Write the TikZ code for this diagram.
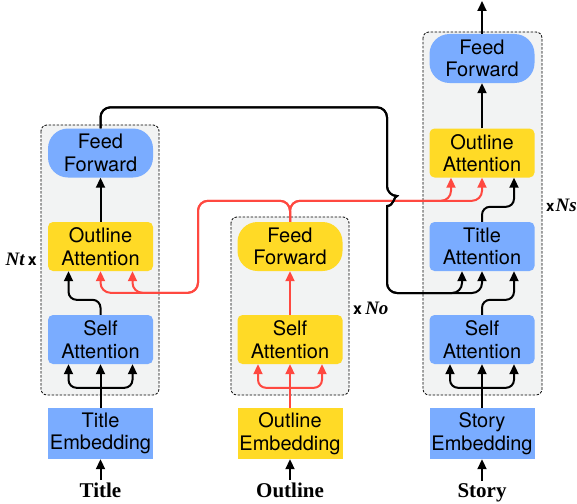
\documentclass[tikz,border=0pt]{standalone}
\usepackage{fontspec}
\setmainfont{TeX Gyre Heros}
\newfontfamily\timesfont{Liberation Serif}
\usepackage{tikz}
\usetikzlibrary{arrows.meta}

\definecolor{ffblue}{RGB}{122,172,255}
\definecolor{ffyellow}{RGB}{255,218,38}
\definecolor{arred}{RGB}{255,72,64}
\definecolor{laygray}{RGB}{242,243,243}

\tikzset{
  blk/.style={rounded corners=5pt, minimum width=105pt, minimum height=49pt, inner sep=0pt, align=center, font=\fontsize{20}{22.5}\selectfont},
  ffblk/.style={blk, rounded corners=20pt},
  embblk/.style={blk, rounded corners=0pt, minimum height=51pt},
  layer/.style={draw, fill=laygray, dash pattern=on 2.5pt off 1.5pt, line width=0.8pt, rounded corners=6pt},
  arr/.style={-{Triangle[length=10pt,width=9pt]}, line width=2pt},
  inlbl/.style={font=\timesfont\bfseries\fontsize{21}{21}\selectfont, anchor=base, inner sep=2pt},
  rep/.style={font=\timesfont\bfseries\itshape\fontsize{19}{19}\selectfont, anchor=base west, inner sep=0pt}
}

\begin{document}
\begin{tikzpicture}[x=1pt,y=-1pt]
\useasboundingbox (0,0) rectangle (577,503);
% stacks
\draw[layer] (41,125) rectangle (159,395);
\draw[layer] (231,217) rectangle (349,395);
\draw[layer] (423,32) rectangle (542,395);

% title encoder
\node[ffblk, fill=ffblue] (lff) at (100.5,153) {Feed\\Forward};
\node[blk, fill=ffyellow] (loa) at (100.5,246.5) {Outline\\Attention};
\node[blk, fill=ffblue] (lsa) at (100.5,339.5) {Self\\Attention};
\node[embblk, fill=ffblue] (lemb) at (100.5,433.5) {Title\\Embedding};
\node[inlbl] (ltxt) at (100.5,497) {Title};
\node[rep, anchor=base east] (ntlbl) at (37,265) {Nt\,{\rmfamily\upshape\fontsize{16}{16}\selectfont x}};

% outline encoder
\node[ffblk, fill=ffyellow] (mff) at (290,246.5) {Feed\\Forward};
\node[blk, fill=ffyellow] (msa) at (290,339.5) {Self\\Attention};
\node[embblk, fill=ffyellow] (memb) at (290,433.5) {Outline\\Embedding};
\node[inlbl] (mtxt) at (290,497) {Outline};
\node[rep] (nolbl) at (353,314) {{\rmfamily\upshape\fontsize{16}{16}\selectfont x}\,No};

% story decoder
\node[ffblk, fill=ffblue] (rff) at (482,58.5) {Feed\\Forward};
\node[blk, fill=ffyellow] (roa) at (482,153) {Outline\\Attention};
\node[blk, fill=ffblue] (rta) at (482,246.5) {Title\\Attention};
\node[blk, fill=ffblue] (rsa) at (482,339.5) {Self\\Attention};
\node[embblk, fill=ffblue] (remb) at (482,433.5) {Story\\Embedding};
\node[inlbl] (rtxt) at (482,497) {Story};
\node[rep] (nslbl) at (546,211) {{\rmfamily\upshape\fontsize{15}{15}\selectfont x}\kern1pt Ns};
\coordinate (out) at (482,1);

% inputs and self attention
\foreach \p/\cl in {l/black, m/arred, r/black} {
    \draw[arr] (\p txt) -- (\p emb);
    \draw[arr,\cl] (\p emb) -- (\p sa);
    \draw[arr,\cl,rounded corners=8pt] ([yshift=20pt]\p emb.north) -| ([xshift=-32pt]\p sa.south);
    \draw[arr,\cl,rounded corners=8pt] ([yshift=20pt]\p emb.north) -| ([xshift=32pt]\p sa.south);
}

% inside the stacks
\draw[arr,rounded corners=8pt] (lsa.north) -- ++(0,-15) -| ([xshift=-32pt]loa.south);
\draw[arr] (loa) -- (lff);
\draw[arr,arred] (msa) -- (mff);
\draw[arr,rounded corners=8pt] (rsa.north) -- ++(0,-15) -| ([xshift=32pt]rta.south);
\draw[arr,rounded corners=8pt] (rta.north) -- ++(0,-15) -| ([xshift=32pt]roa.south);
\draw[arr] (roa) -- (rff);
\draw[arr] (rff) -- (out);

% outline memory
\foreach \dx in {0,32} {
    \draw[arr,arred,rounded corners=10pt] (mff.north) -- ++(0,-21) -| ++(-92,92) -| ([xshift=\dx pt]loa.south);
}
\foreach \dx in {-31,0} {
    \draw[arr,arred,rounded corners=10pt] (mff.north) -- ++(0,-21) -| ([xshift=\dx pt]roa.south);
}

% title memory, jumps over the red line
\foreach \dx in {-20,0} {
    \draw[arr,rounded corners=10pt] (lff.north) -- ++(0,-21) -| (387,196) [sharp corners] .. controls (394,196) and (394,206) .. (387,206) [rounded corners=10pt] -- (387,293) -| ([xshift=\dx pt]rta.south);
}
\end{tikzpicture}
\end{document}
